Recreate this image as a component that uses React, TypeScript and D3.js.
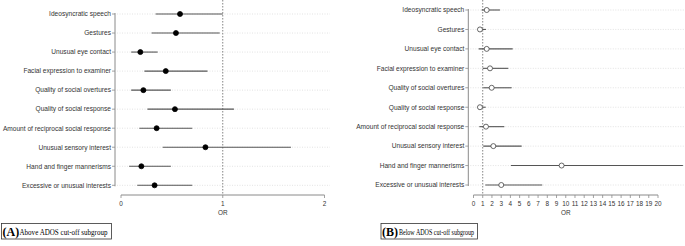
import React from "react";
import * as d3 from "d3";

const categories = [
  "Ideosyncratic speech",
  "Gestures",
  "Unusual eye contact",
  "Facial expression to examiner",
  "Quality of social overtures",
  "Quality of social response",
  "Amount of reciprocal social response",
  "Unusual sensory interest",
  "Hand and finger mannerisms",
  "Excessive or unusual interests",
];

const aboveOR = [0.58, 0.54, 0.19, 0.44, 0.22, 0.53, 0.35, 0.83, 0.2, 0.33];
const aboveLow = [0.34, 0.3, 0.1, 0.23, 0.1, 0.26, 0.18, 0.41, 0.08, 0.16];
const aboveHigh = [1.0, 0.97, 0.36, 0.85, 0.49, 1.11, 0.7, 1.67, 0.49, 0.7];

const belowOR = [1.43, 0.7, 1.43, 1.79, 1.97, 0.7, 1.35, 2.15, 9.55, 3.01];
const belowLow = [0.88, 0.45, 0.56, 1.0, 1.06, 0.45, 0.63, 1.06, 4.06, 1.28];
const belowHigh = [2.87, 1.35, 4.25, 3.77, 4.14, 1.32, 3.34, 5.22, 22.7, 7.45];

const aboveTicks = [0, 1, 2];
const belowTicks = d3.range(0, 21);

const axisColor = "#8a8a8a";
const lineColor = "#555";
const gridColor = "#d0d0d0";
const font = "Liberation Sans, Arial, sans-serif";

type PanelProps = {
  or: number[];
  lo: number[];
  hi: number[];
  ticks: number[];
  xDomain: [number, number];
  xRange: [number, number];
  yRange: [number, number];
  axisX: number;
  gridEnd: number;
  filled: boolean;
  clipRight: number;
};

function Panel(p: PanelProps) {
  const x = d3.scaleLinear().domain(p.xDomain).range(p.xRange);
  const y = d3.scalePoint<string>().domain(categories).range(p.yRange);
  const axisY = 195;
  const fs = 6.6;
  return (
    <g>
      {categories.map((c) => (
        <line key={"g" + c} x1={p.axisX + 2} x2={p.gridEnd} y1={y(c)} y2={y(c)} stroke={gridColor} strokeWidth={0.6} strokeDasharray="1,1.5" />
      ))}
      <line x1={x(1)} x2={x(1)} y1={0} y2={axisY} stroke="#666" strokeWidth={0.8} strokeDasharray="1.5,1.5" />
      <line x1={p.axisX} x2={p.axisX} y1={p.yRange[0] - 1} y2={p.yRange[1] + 1} stroke={axisColor} strokeWidth={1} />
      {categories.map((c) => (
        <g key={"l" + c}>
          <line x1={p.axisX - 3} x2={p.axisX} y1={y(c)} y2={y(c)} stroke={axisColor} strokeWidth={0.8} />
          <text x={p.axisX - 4} y={y(c)} dy="0.35em" textAnchor="end" fontSize={fs} fontFamily={font} fill="#333">{c}</text>
        </g>
      ))}
      {categories.map((c, i) => (
        <line key={"ci" + c} x1={x(p.lo[i])} x2={Math.min(x(p.hi[i]), p.clipRight)} y1={y(c)} y2={y(c)} stroke={lineColor} strokeWidth={1.1} />
      ))}
      {categories.map((c, i) => (
        <circle key={"p" + c} cx={x(p.or[i])} cy={y(c)} r={2.5} fill={p.filled ? "#000" : "#fff"} stroke={p.filled ? "#000" : "#444"} strokeWidth={0.8} />
      ))}
      <line x1={p.xRange[0]} x2={p.xRange[1]} y1={axisY} y2={axisY} stroke={axisColor} strokeWidth={1} />
      {p.ticks.map((t) => (
        <g key={"t" + t}>
          <line x1={x(t)} x2={x(t)} y1={axisY} y2={axisY + 3} stroke={axisColor} strokeWidth={0.8} />
          <text x={x(t)} y={axisY + 8.5} textAnchor="middle" dy="0.35em" fontSize={6.4} fontFamily={font} fill="#333">{t}</text>
        </g>
      ))}
      <text x={(p.xRange[0] + p.xRange[1]) / 2} y={213} textAnchor="middle" dy="0.35em" fontSize={6.4} fontFamily={font} fill="#333">OR</text>
    </g>
  );
}

function Caption({ x, w, letter, label, labelW }: { x: number; w: number; letter: string; label: string; labelW: number }) {
  const serif = "Liberation Serif, Times New Roman, serif";
  return (
    <g>
      <rect x={x} y={223.5} width={w} height={15.5} fill="#fff" stroke="#333" strokeWidth={0.8} />
      <text x={x + 1} y={235.5} fontFamily={serif} fontSize={12} fontWeight="bold" fill="#000">({letter})</text>
      <text x={x + 18} y={234.8} fontFamily={serif} fontSize={9.2} fill="#000" textLength={labelW} lengthAdjust="spacingAndGlyphs">{label}</text>
    </g>
  );
}

export default function App() {
  return (
    <svg width={685} height={246} style={{ position: "absolute", left: 0, top: 0, background: "#fff" }}>
      <Panel or={aboveOR} lo={aboveLow} hi={aboveHigh} ticks={aboveTicks} xDomain={[0, 2]} xRange={[121, 324.5]} yRange={[14, 185.3]} axisX={115} gridEnd={330} filled={true} clipRight={685} />
      <Panel or={belowOR} lo={belowLow} hi={belowHigh} ticks={belowTicks} xDomain={[0, 20]} xRange={[473.5, 658]} yRange={[10, 185]} axisX={468.3} gridEnd={685} filled={false} clipRight={683} />
      <Caption x={1.5} w={110} letter="A" label="Above ADOS cut-off subgroup" labelW={88} />
      <Caption x={381} w={96.5} letter="B" label="Below ADOS cut-off subgroup" labelW={75} />
    </svg>
  );
}
